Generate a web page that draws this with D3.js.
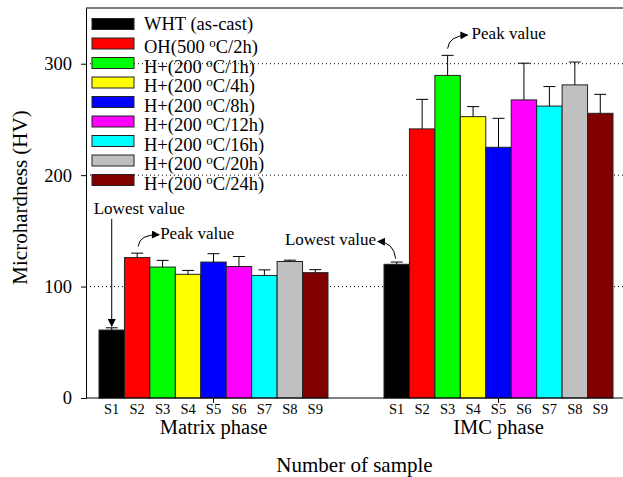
<!DOCTYPE html>
<html>
<head>
<meta charset="utf-8">
<script src="https://cdn.jsdelivr.net/npm/d3@7"></script>
<style>
  html, body { margin: 0; padding: 0; background: #fff; }
  svg { display: block; font-family: "Liberation Serif", "Times New Roman", serif; }
</style>
</head>
<body>
<svg id="chart" width="623" height="477"></svg>
<script>
// ---------------- data ----------------
const groups = ["Matrix phase", "IMC phase"];
const samples = ["S1", "S2", "S3", "S4", "S5", "S6", "S7", "S8", "S9"];
const legendLabels = [
  "WHT (as-cast)",
  "OH(500 ^oC/2h)",
  "H+(200 ^oC/1h)",
  "H+(200 ^oC/4h)",
  "H+(200 ^oC/8h)",
  "H+(200 ^oC/12h)",
  "H+(200 ^oC/16h)",
  "H+(200 ^oC/20h)",
  "H+(200 ^oC/24h)"
];
const colors = ["#000000", "#ff0000", "#00ff00", "#ffff00", "#0000ff", "#ff00ff", "#00ffff", "#c0c0c0", "#800000"];
const matrixValues = [61, 126, 117.5, 111, 122, 118, 110, 122.5, 112.5];
const matrixErrors = [2, 4, 6, 3.5, 7.5, 9, 5, 1.2, 2.7];
const imcValues = [120, 241.5, 289.5, 252.5, 225, 267.5, 262, 281, 255.5];
const imcErrors = [2, 26.5, 18, 9, 26, 33, 17.5, 20.5, 17];
const yTicks = [0, 100, 200, 300];
const yMax = 350;

// ---------------- layout ----------------
const svg = d3.select("#chart");
const plotLeft = 86, plotRight = 623, plotTop = 8, plotBottom = 398;

const y = d3.scaleLinear().domain([0, yMax]).range([plotBottom, plotTop]);
const xGroup = d3.scaleBand().domain(groups).range([99, 613]).paddingInner(0.1965).paddingOuter(0);
const xSample = d3.scaleBand().domain(samples).range([0, xGroup.bandwidth()]).padding(0);

const rows = [];
groups.forEach((g, gi) => {
  const vals = gi === 0 ? matrixValues : imcValues;
  const errs = gi === 0 ? matrixErrors : imcErrors;
  samples.forEach((s, i) => rows.push({ group: g, sample: s, i, value: vals[i], err: errs[i] }));
});
const cx = (g, s) => xGroup(g) + xSample(s) + xSample.bandwidth() / 2;

// grid lines
svg.append("g").selectAll("line").data(yTicks.filter(d => d > 0)).join("line")
  .attr("x1", plotLeft).attr("x2", plotRight)
  .attr("y1", d => y(d)).attr("y2", d => y(d))
  .attr("stroke", "#000").attr("stroke-width", 1).attr("stroke-dasharray", "1,3");

// bars
svg.append("g").selectAll("rect").data(rows).join("rect")
  .attr("x", d => xGroup(d.group) + xSample(d.sample))
  .attr("y", d => y(d.value))
  .attr("width", xSample.bandwidth())
  .attr("height", d => y(0) - y(d.value))
  .attr("fill", d => colors[d.i])
  .attr("stroke", "#222").attr("stroke-width", 1);

// error bars (upper only)
const eg = svg.append("g").attr("stroke", "#000").attr("stroke-width", 1);
eg.selectAll("line.v").data(rows).join("line").attr("class", "v")
  .attr("x1", d => cx(d.group, d.sample)).attr("x2", d => cx(d.group, d.sample))
  .attr("y1", d => y(d.value)).attr("y2", d => y(d.value + d.err));
eg.selectAll("line.c").data(rows).join("line").attr("class", "c")
  .attr("x1", d => cx(d.group, d.sample) - 6).attr("x2", d => cx(d.group, d.sample) + 6)
  .attr("y1", d => y(d.value + d.err)).attr("y2", d => y(d.value + d.err));

// axes
const yAxis = svg.append("g").attr("transform", `translate(${plotLeft},0)`)
  .call(d3.axisLeft(y).tickValues(yTicks).tickSize(5).tickSizeOuter(0).tickPadding(9));
yAxis.selectAll("text").attr("font-size", 18.5).attr("font-family", "Liberation Serif").attr("fill", "#000");
yAxis.select(".domain").attr("stroke", "#000");

svg.append("line").attr("x1", plotLeft).attr("x2", plotRight).attr("y1", plotTop).attr("y2", plotTop).attr("stroke", "#000");

const xAxis = svg.append("g").attr("transform", `translate(0,${plotBottom})`)
  .call(d3.axisBottom(xGroup).tickSize(5).tickSizeOuter(0).tickFormat(""));
xAxis.select(".domain").remove();
svg.append("line").attr("x1", plotLeft).attr("x2", plotRight).attr("y1", plotBottom).attr("y2", plotBottom).attr("stroke", "#000");

// sample labels
svg.append("g").selectAll("text").data(rows).join("text")
  .attr("x", d => cx(d.group, d.sample)).attr("y", plotBottom + 16)
  .attr("text-anchor", "middle").attr("font-size", 14.5).text(d => d.sample);

// group labels
svg.append("g").selectAll("text").data(groups).join("text")
  .attr("x", d => xGroup(d) + xGroup.bandwidth() / 2).attr("y", plotBottom + 36)
  .attr("text-anchor", "middle").attr("font-size", 20.5).text(d => d);

// axis titles
svg.append("text").attr("x", (plotLeft + plotRight) / 2).attr("y", 472)
  .attr("text-anchor", "middle").attr("font-size", 21).text("Number of sample");
svg.append("text").attr("transform", "translate(27,197.5) rotate(-90)")
  .attr("text-anchor", "middle").attr("font-size", 21).text("Microhardness (HV)");

// legend
const legend = svg.append("g");
legendLabels.forEach((lab, i) => {
  const cy = 24 + i * 19.5;
  legend.append("rect").attr("x", 92).attr("y", cy - 5.5).attr("width", 42).attr("height", 11)
    .attr("fill", colors[i]).attr("stroke", "#222").attr("stroke-width", 1);
  const parts = lab.split("^o");
  const t = legend.append("text").attr("x", 144).attr("y", cy + (parts.length > 1 ? 9.5 : 6))
    .attr("font-size", 18.5);
  t.append("tspan").text(parts[0]);
  if (parts.length > 1) {
    t.append("tspan").attr("font-size", 13).attr("dy", -6).text("o");
    t.append("tspan").attr("dy", 6).text(parts[1]);
  }
});

// annotations
const defs = svg.append("defs");
defs.append("marker").attr("id", "ah").attr("viewBox", "0 0 10 10").attr("refX", 9).attr("refY", 5)
  .attr("markerWidth", 9).attr("markerHeight", 8).attr("markerUnits", "userSpaceOnUse").attr("orient", "auto")
  .append("path").attr("d", "M0,0 L10,5 L0,10 Z").attr("fill", "#000");

const ann = svg.append("g").attr("font-size", 17);
// Matrix lowest
const m1 = cx("Matrix phase", "S1");
ann.append("text").attr("x", m1 - 18).attr("y", y(165.3)).text("Lowest value");
ann.append("line").attr("x1", m1).attr("x2", m1).attr("y1", y(160.8)).attr("y2", y(64.5))
  .attr("stroke", "#000").attr("marker-end", "url(#ah)");
// Matrix peak
const m2 = cx("Matrix phase", "S2");
ann.append("path").attr("d", `M${m2 + 1},${y(136)} Q${m2 + 2},${y(147)} ${m2 + 22},${y(146.5)}`)
  .attr("fill", "none").attr("stroke", "#000").attr("marker-end", "url(#ah)");
ann.append("text").attr("x", m2 + 23).attr("y", y(143)).text("Peak value");
// IMC lowest
const i1 = cx("IMC phase", "S1");
ann.append("path").attr("d", `M${i1 - 1},${y(125)} Q${i1 - 3},${y(140)} ${i1 - 19},${y(140.5)}`)
  .attr("fill", "none").attr("stroke", "#000").attr("marker-end", "url(#ah)");
ann.append("text").attr("x", xGroup("IMC phase") - 8).attr("y", y(137.5)).attr("text-anchor", "end").text("Lowest value");
// IMC peak
const i3 = cx("IMC phase", "S3");
ann.append("path").attr("d", `M${i3},${y(313.5)} Q${i3 + 1},${y(325)} ${i3 + 20},${y(325.7)}`)
  .attr("fill", "none").attr("stroke", "#000").attr("marker-end", "url(#ah)");
ann.append("text").attr("x", i3 + 24).attr("y", y(322)).text("Peak value");
</script>
</body>
</html>
